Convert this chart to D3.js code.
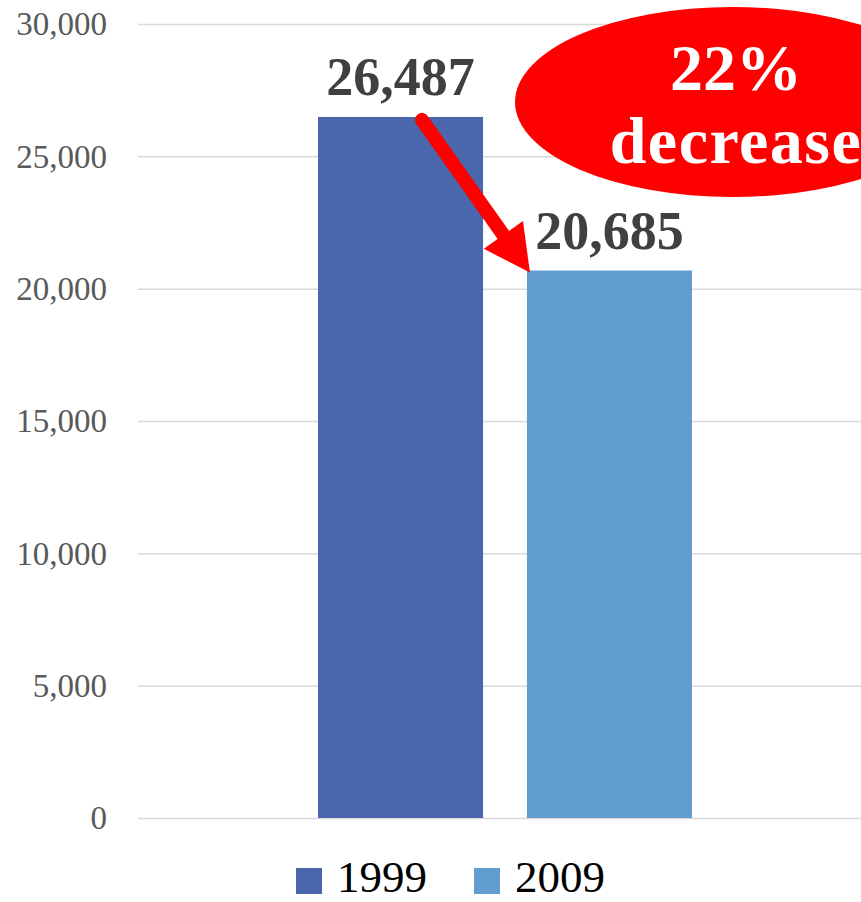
<!DOCTYPE html>
<html>
<head>
<meta charset="utf-8">
<script src="https://cdn.jsdelivr.net/npm/d3@7"></script>
<style>
  html, body { margin: 0; padding: 0; background: #fff; overflow: hidden; }
  svg { display: block; }
</style>
</head>
<body>
<svg id="chart" width="861" height="902"></svg>
<script>
// ---- data ----
const categories = ["1999", "2009"];
const values = [26487, 20685];
const colors = ["#4A66AC", "#629DD1"];
const yTicks = [0, 5000, 10000, 15000, 20000, 25000, 30000];
const calloutLines = ["22%", "decrease"];

const svg = d3.select("#chart");
const plot = { left: 138, right: 872, top: 24, bottom: 818 };
const FONT = "'Liberation Serif', 'DejaVu Serif', serif";

const y = d3.scaleLinear().domain([0, 30000]).range([plot.bottom, plot.top]);
const center = (plot.left + plot.right) / 2;
const groupHalf = 187;
const x = d3.scaleBand().domain(categories)
  .range([center - groupHalf, center + groupHalf])
  .paddingInner(0.21).paddingOuter(0);

// gridlines + ticks
const yAxis = d3.axisLeft(y).tickValues(yTicks)
  .tickSize(-(plot.right - plot.left)).tickPadding(31)
  .tickFormat(d3.format(","));
const gAxis = svg.append("g").attr("transform", `translate(${plot.left},0)`).call(yAxis);
gAxis.select(".domain").remove();
gAxis.selectAll(".tick line").attr("stroke", "#d9d9d9").attr("stroke-width", 1.5);
gAxis.selectAll(".tick text").attr("fill", "#595959")
  .style("font-family", FONT).style("font-size", "33px").attr("dy", "0.33em");

// bars
svg.append("g").selectAll("rect").data(categories).join("rect")
  .attr("x", d => x(d))
  .attr("width", x.bandwidth())
  .attr("y", (d, i) => y(values[i]))
  .attr("height", (d, i) => y(0) - y(values[i]))
  .attr("fill", (d, i) => colors[i]);

// value labels
svg.append("g").selectAll("text").data(categories).join("text")
  .attr("x", d => x(d) + x.bandwidth() / 2)
  .attr("y", (d, i) => y(values[i]) - 22)
  .attr("text-anchor", "middle")
  .attr("fill", "#404040")
  .style("font-family", FONT).style("font-weight", "bold").style("font-size", "54px")
  .text((d, i) => d3.format(",")(values[i]));

// arrow from bar 1 top to bar 2 top
const sx = x(categories[0]) + x.bandwidth() * 0.63, sy = y(values[0]) + 3;
const tx = x(categories[1]) + 3, ty = y(values[1]) + 2;
const dx = tx - sx, dy = ty - sy, len = Math.hypot(dx, dy);
const ux = dx / len, uy = dy / len, px = -uy, py = ux;
const headLen = 46, headHalf = 24;
const bx = tx - ux * headLen, by = ty - uy * headLen;
svg.append("line")
  .attr("x1", sx).attr("y1", sy).attr("x2", bx + ux * 4).attr("y2", by + uy * 4)
  .attr("stroke", "#FF0000").attr("stroke-width", 14).attr("stroke-linecap", "round");
svg.append("polygon")
  .attr("points", [[tx, ty], [bx + px * headHalf, by + py * headHalf], [bx - px * headHalf, by - py * headHalf]].map(p => p.join(",")).join(" "))
  .attr("fill", "#FF0000");

// callout ellipse
const ecx = 733, ecy = 102;
svg.append("ellipse").attr("cx", ecx).attr("cy", ecy).attr("rx", 218).attr("ry", 95)
  .attr("fill", "#FF0000");
svg.append("g").selectAll("text").data(calloutLines).join("text")
  .attr("x", ecx + 3)
  .attr("y", (d, i) => 90 + i * 73)
  .attr("text-anchor", "middle")
  .attr("fill", "#ffffff")
  .style("font-family", FONT).style("font-weight", "bold").style("font-size", "66px")
  .style("letter-spacing", (d, i) => i === 1 ? "1.5px" : "0px")
  .text(d => d);

// legend
const legend = svg.append("g");
const legX = [296, 474];
categories.forEach((c, i) => {
  legend.append("rect").attr("x", legX[i]).attr("y", 868).attr("width", 26).attr("height", 26)
    .attr("fill", colors[i]);
  legend.append("text").attr("x", legX[i] + 41).attr("y", 892)
    .attr("fill", "#000")
    .style("font-family", FONT).style("font-size", "45px")
    .text(c);
});
</script>
</body>
</html>
